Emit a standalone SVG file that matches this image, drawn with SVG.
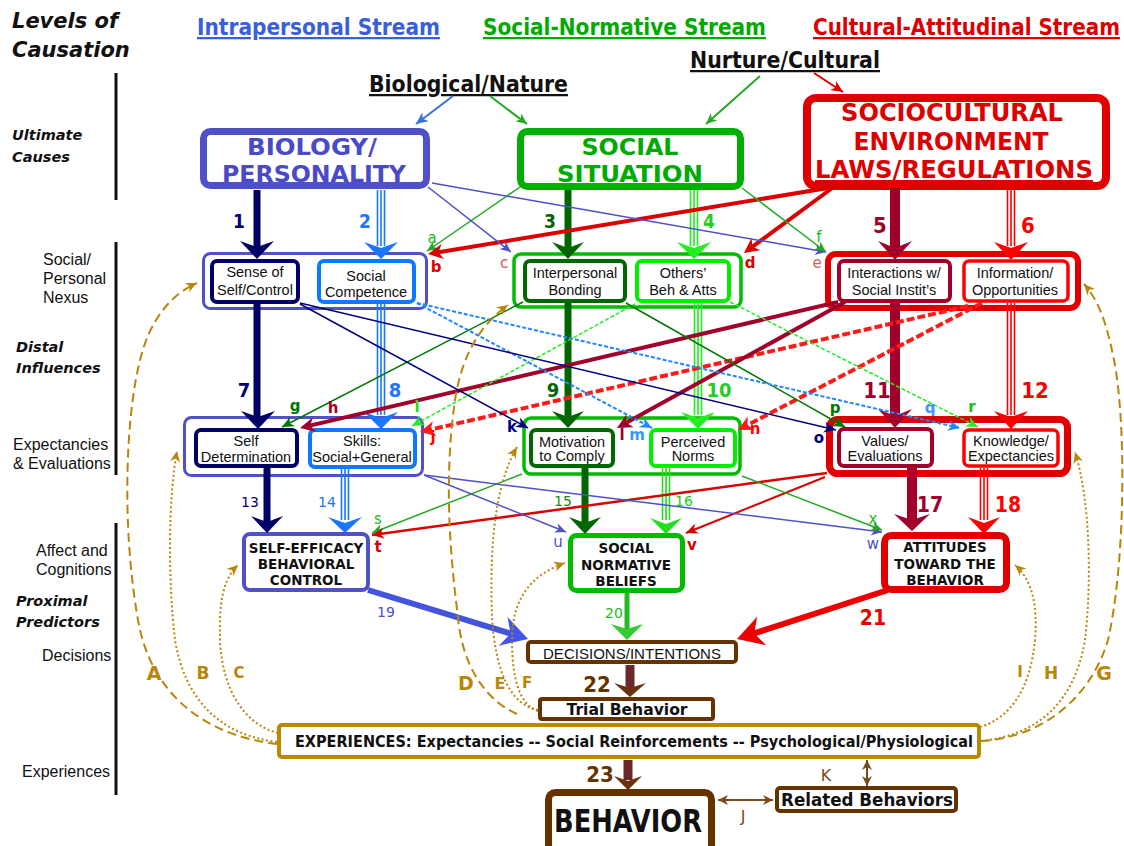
<svg xmlns="http://www.w3.org/2000/svg" width="1124" height="846" viewBox="0 0 1124 846">
<defs>
<style>
.hd{font-family:"DejaVu Sans Condensed","DejaVu Sans",sans-serif;font-stretch:condensed;font-weight:bold}
.bi{font-family:"DejaVu Sans",sans-serif;font-weight:bold;font-style:italic;fill:#111}
.side{font-family:"Liberation Sans",Arial,sans-serif;font-size:16px;fill:#111}
.lab{font-family:"Liberation Sans",Arial,sans-serif;font-size:14.5px;fill:#111;text-anchor:middle}
.b4{font-family:"DejaVu Sans",sans-serif;font-weight:bold;font-size:13.5px;fill:#111;text-anchor:middle}
.num{font-family:"DejaVu Sans Condensed","DejaVu Sans",sans-serif;font-stretch:condensed;font-weight:bold;text-anchor:middle}
.numn{font-family:"DejaVu Sans",sans-serif;font-size:14px;text-anchor:middle}
.let{font-family:"DejaVu Sans",sans-serif;font-size:15px;text-anchor:middle}
.letb{font-family:"DejaVu Sans",sans-serif;font-size:15px;font-weight:bold;text-anchor:middle}
.gl{font-family:"DejaVu Sans",sans-serif;font-weight:bold;fill:#b8860b;text-anchor:middle}
.box{fill:#fff}
.th{fill:none;stroke-width:1.5}
.dash{stroke-dasharray:4 2}
.rdash{stroke-dasharray:8 3}
.gd{fill:none;stroke:#b8860b;stroke-width:2;stroke-dasharray:9 5;marker-end:url(#sGold)}
.gt{fill:none;stroke:#b8860b;stroke-width:2;stroke-dasharray:2 2.5;marker-end:url(#sGold)}
</style>
<marker id="sSlate" viewBox="0 0 10 10" refX="10" refY="5" markerUnits="userSpaceOnUse" markerWidth="11" markerHeight="10" orient="auto" preserveAspectRatio="none"><path d="M0,0 L10,5 L0,10 L3,5 Z" fill="#5050c8"/></marker>
<marker id="sGreen" viewBox="0 0 10 10" refX="10" refY="5" markerUnits="userSpaceOnUse" markerWidth="11" markerHeight="10" orient="auto" preserveAspectRatio="none"><path d="M0,0 L10,5 L0,10 L3,5 Z" fill="#22aa22"/></marker>
<marker id="sRed" viewBox="0 0 10 10" refX="10" refY="5" markerUnits="userSpaceOnUse" markerWidth="12" markerHeight="11" orient="auto" preserveAspectRatio="none"><path d="M0,0 L10,5 L0,10 L3,5 Z" fill="#dd0000"/></marker>
<marker id="sNavy" viewBox="0 0 10 10" refX="10" refY="5" markerUnits="userSpaceOnUse" markerWidth="12" markerHeight="11" orient="auto" preserveAspectRatio="none"><path d="M0,0 L10,5 L0,10 L3,5 Z" fill="#000080"/></marker>
<marker id="sBlue" viewBox="0 0 10 10" refX="10" refY="5" markerUnits="userSpaceOnUse" markerWidth="12" markerHeight="11" orient="auto" preserveAspectRatio="none"><path d="M0,0 L10,5 L0,10 L3,5 Z" fill="#2288ff"/></marker>
<marker id="sDkg" viewBox="0 0 10 10" refX="10" refY="5" markerUnits="userSpaceOnUse" markerWidth="12" markerHeight="11" orient="auto" preserveAspectRatio="none"><path d="M0,0 L10,5 L0,10 L3,5 Z" fill="#007700"/></marker>
<marker id="sBrg" viewBox="0 0 10 10" refX="10" refY="5" markerUnits="userSpaceOnUse" markerWidth="12" markerHeight="11" orient="auto" preserveAspectRatio="none"><path d="M0,0 L10,5 L0,10 L3,5 Z" fill="#22ee22"/></marker>
<marker id="sTopBlue" viewBox="0 0 10 10" refX="10" refY="5" markerUnits="userSpaceOnUse" markerWidth="12" markerHeight="11" orient="auto" preserveAspectRatio="none"><path d="M0,0 L10,5 L0,10 L3,5 Z" fill="#3a6fe0"/></marker>
<marker id="sGold" viewBox="0 0 10 10" refX="10" refY="5" markerUnits="userSpaceOnUse" markerWidth="11" markerHeight="10" orient="auto" preserveAspectRatio="none"><path d="M0,0 L10,5 L0,10 L3,5 Z" fill="#b8860b"/></marker>
<marker id="sBrown" viewBox="0 0 10 10" refX="10" refY="5" markerUnits="userSpaceOnUse" markerWidth="10" markerHeight="10" orient="auto-start-reverse" preserveAspectRatio="none"><path d="M0,0 L10,5 L0,10 L3,5 Z" fill="#7a4a1a"/></marker>
<marker id="mRed" viewBox="0 0 10 10" refX="4" refY="5" markerUnits="userSpaceOnUse" markerWidth="15" markerHeight="15" orient="auto" preserveAspectRatio="none"><path d="M0,0 L10,5 L0,10 L3,5 Z" fill="#dd0000"/></marker>
<marker id="mRed2" viewBox="0 0 10 10" refX="4" refY="5" markerUnits="userSpaceOnUse" markerWidth="15" markerHeight="15" orient="auto" preserveAspectRatio="none"><path d="M0,0 L10,5 L0,10 L3,5 Z" fill="#ff1a1a"/></marker>
<marker id="mDkred" viewBox="0 0 10 10" refX="4" refY="5" markerUnits="userSpaceOnUse" markerWidth="15" markerHeight="15" orient="auto" preserveAspectRatio="none"><path d="M0,0 L10,5 L0,10 L3,5 Z" fill="#a0002a"/></marker>
<marker id="bSlate" viewBox="0 0 10 10" refX="4" refY="5" markerUnits="userSpaceOnUse" markerWidth="26" markerHeight="30" orient="auto" preserveAspectRatio="none"><path d="M0,0 L10,5 L0,10 L3,5 Z" fill="#4455ee"/></marker>
<marker id="bRed" viewBox="0 0 10 10" refX="4" refY="5" markerUnits="userSpaceOnUse" markerWidth="26" markerHeight="30" orient="auto" preserveAspectRatio="none"><path d="M0,0 L10,5 L0,10 L3,5 Z" fill="#ee0000"/></marker>
</defs>
<rect width="1124" height="846" fill="#fff"/>

<g id="headers">
<text class="bi" x="12" y="28" font-size="21">Levels of</text>
<text class="bi" x="12" y="57" font-size="21">Causation</text>
<text class="hd" x="197" y="35" font-size="22.5" textLength="243" lengthAdjust="spacingAndGlyphs" fill="#3a5fdd" text-decoration="underline">Intrapersonal Stream</text>
<text class="hd" x="483" y="35" font-size="22.5" textLength="283" lengthAdjust="spacingAndGlyphs" fill="#00aa00" text-decoration="underline">Social-Normative Stream</text>
<text class="hd" x="813" y="35" font-size="22.5" textLength="307" lengthAdjust="spacingAndGlyphs" fill="#dd0000" text-decoration="underline">Cultural-Attitudinal Stream</text>
<text class="hd" x="690" y="68" font-size="22.5" textLength="190" lengthAdjust="spacingAndGlyphs" fill="#111" text-decoration="underline">Nurture/Cultural</text>
<text class="hd" x="369" y="92" font-size="22.5" textLength="199" lengthAdjust="spacingAndGlyphs" fill="#111" text-decoration="underline">Biological/Nature</text>
</g>

<g id="levels-axis">
<line x1="116" y1="73" x2="116" y2="200" stroke="#111" stroke-width="3"/>
<line x1="116" y1="242" x2="116" y2="475" stroke="#111" stroke-width="3"/>
<line x1="116" y1="523" x2="116" y2="795" stroke="#111" stroke-width="3"/>
<text class="bi" x="12" y="140" font-size="14.5">Ultimate</text>
<text class="bi" x="12" y="162" font-size="14.5">Causes</text>
<text class="side" x="43" y="265">Social/</text>
<text class="side" x="43" y="284">Personal</text>
<text class="side" x="43" y="303">Nexus</text>
<text class="bi" x="16" y="352" font-size="14.5">Distal</text>
<text class="bi" x="16" y="373" font-size="14.5">Influences</text>
<text class="side" x="13" y="450">Expectancies</text>
<text class="side" x="13" y="469">&amp; Evaluations</text>
<text class="side" x="36" y="556">Affect and</text>
<text class="side" x="36" y="575">Cognitions</text>
<text class="bi" x="16" y="606" font-size="14.5">Proximal</text>
<text class="bi" x="16" y="627" font-size="14.5">Predictors</text>
<text class="side" x="42" y="661">Decisions</text>
<text class="side" x="22" y="777">Experiences</text>
</g>

<g id="node-biology">
<rect x="203.5" y="131.5" width="223" height="54" rx="7" class="box" stroke="#5050c8" stroke-width="7"/>
<text class="hd" x="312" y="155" font-size="23" text-anchor="middle" fill="#4a4ac8" textLength="130" lengthAdjust="spacingAndGlyphs">BIOLOGY/</text>
<text class="hd" x="314" y="182" font-size="23" text-anchor="middle" fill="#4a4ac8" textLength="184" lengthAdjust="spacingAndGlyphs">PERSONALITY</text>
</g>
<g id="node-social-situation">
<rect x="520.5" y="131.5" width="220" height="55" rx="7" class="box" stroke="#00b000" stroke-width="7"/>
<text class="hd" x="630" y="155" font-size="23" text-anchor="middle" fill="#00aa00" textLength="97" lengthAdjust="spacingAndGlyphs">SOCIAL</text>
<text class="hd" x="630" y="182" font-size="23" text-anchor="middle" fill="#00aa00" textLength="146" lengthAdjust="spacingAndGlyphs">SITUATION</text>
</g>
<g id="node-sociocultural">
<rect x="807" y="98" width="299" height="88" rx="9" class="box" stroke="#e00000" stroke-width="8"/>
<text class="hd" x="952" y="121" font-size="25.5" text-anchor="middle" fill="#dd0000" textLength="222" lengthAdjust="spacingAndGlyphs">SOCIOCULTURAL</text>
<text class="hd" x="951" y="150" font-size="25.5" text-anchor="middle" fill="#dd0000" textLength="195" lengthAdjust="spacingAndGlyphs">ENVIRONMENT</text>
<text class="hd" x="954" y="178" font-size="25.5" text-anchor="middle" fill="#dd0000" textLength="278" lengthAdjust="spacingAndGlyphs" text-decoration="underline">LAWS/REGULATIONS</text>
</g>

<g id="node-group-intrapersonal-nexus">
<rect x="203.5" y="253.5" width="223" height="55" rx="7" class="box" stroke="#5050c8" stroke-width="3"/>
</g>
<g id="node-sense-of-self">
<rect x="212" y="261" width="86" height="41" rx="5" class="box" stroke="#000066" stroke-width="4"/>
<text class="lab" x="255" y="277">Sense of</text>
<text class="lab" x="255" y="295">Self/Control</text>
</g>
<g id="node-social-competence">
<rect x="319" y="261" width="95" height="41" rx="5" class="box" stroke="#0a7aff" stroke-width="4"/>
<text class="lab" x="366" y="281">Social</text>
<text class="lab" x="366" y="297">Competence</text>
</g>
<g id="node-group-social-nexus">
<rect x="514" y="254" width="227" height="53" rx="7" class="box" stroke="#00bb00" stroke-width="3.5"/>
</g>
<g id="node-interpersonal-bonding">
<rect x="525" y="261" width="100" height="40" rx="5" class="box" stroke="#006600" stroke-width="4"/>
<text class="lab" x="575" y="278">Interpersonal</text>
<text class="lab" x="575" y="295">Bonding</text>
</g>
<g id="node-others-beh">
<rect x="637" y="261" width="92" height="40" rx="5" class="box" stroke="#00ee00" stroke-width="4"/>
<text class="lab" x="683" y="278">Others’</text>
<text class="lab" x="683" y="295">Beh &amp; Atts</text>
</g>
<g id="node-group-cultural-nexus">
<rect x="828" y="254" width="250" height="54" rx="8" class="box" stroke="#e00000" stroke-width="6"/>
</g>
<g id="node-interactions">
<rect x="839" y="261" width="111" height="40" rx="5" class="box" stroke="#a0002a" stroke-width="4"/>
<text class="lab" x="894" y="278">Interactions w/</text>
<text class="lab" x="894" y="295">Social Instit’s</text>
</g>
<g id="node-information">
<rect x="964" y="261" width="104" height="40" rx="5" class="box" stroke="#ff0000" stroke-width="3.5"/>
<text class="lab" x="1015" y="278">Information/</text>
<text class="lab" x="1015" y="295">Opportunities</text>
</g>

<g id="node-group-intrapersonal-expect">
<rect x="184.5" y="417.5" width="238" height="58" rx="7" class="box" stroke="#5050c8" stroke-width="3"/>
</g>
<g id="node-self-determination">
<rect x="196" y="430" width="101" height="36" rx="5" class="box" stroke="#000066" stroke-width="4"/>
<text class="lab" x="246" y="446">Self</text>
<text class="lab" x="246" y="462">Determination</text>
</g>
<g id="node-skills">
<rect x="310" y="430" width="105" height="37" rx="5" class="box" stroke="#0a7aff" stroke-width="4"/>
<text class="lab" x="362" y="446">Skills:</text>
<text class="lab" x="362" y="462">Social+General</text>
</g>
<g id="node-group-social-expect">
<rect x="524" y="418" width="216" height="56" rx="7" class="box" stroke="#00bb00" stroke-width="3.5"/>
</g>
<g id="node-motivation">
<rect x="531" y="430" width="82" height="36" rx="5" class="box" stroke="#006600" stroke-width="4"/>
<text class="lab" x="572" y="447">Motivation</text>
<text class="lab" x="572" y="461">to Comply</text>
</g>
<g id="node-perceived-norms">
<rect x="651" y="430" width="84" height="36" rx="5" class="box" stroke="#00ee00" stroke-width="4"/>
<text class="lab" x="693" y="447">Perceived</text>
<text class="lab" x="693" y="461">Norms</text>
</g>
<g id="node-group-cultural-expect">
<rect x="829.5" y="419.5" width="238" height="54" rx="8" class="box" stroke="#e00000" stroke-width="7"/>
</g>
<g id="node-values">
<rect x="839" y="429" width="93" height="37" rx="5" class="box" stroke="#a0002a" stroke-width="4"/>
<text class="lab" x="885" y="446">Values/</text>
<text class="lab" x="885" y="461">Evaluations</text>
</g>
<g id="node-knowledge">
<rect x="964" y="430" width="94" height="36" rx="5" class="box" stroke="#ff0000" stroke-width="3.5"/>
<text class="lab" x="1011" y="446">Knowledge/</text>
<text class="lab" x="1011" y="461">Expectancies</text>
</g>

<g id="node-self-efficacy">
<rect x="244" y="534" width="124" height="56" rx="6" class="box" stroke="#5050c8" stroke-width="4"/>
<text class="b4" x="306" y="553">SELF-EFFICACY</text>
<text class="b4" x="306" y="569">BEHAVIORAL</text>
<text class="b4" x="306" y="585">CONTROL</text>
</g>
<g id="node-social-normative-beliefs">
<rect x="570.5" y="535.5" width="112" height="55" rx="6" class="box" stroke="#00bb00" stroke-width="5"/>
<text class="b4" x="626" y="553">SOCIAL</text>
<text class="b4" x="626" y="570">NORMATIVE</text>
<text class="b4" x="626" y="586">BELIEFS</text>
</g>
<g id="node-attitudes">
<rect x="884.5" y="535.5" width="122" height="54" rx="7" class="box" stroke="#e00000" stroke-width="7"/>
<text class="b4" x="945" y="552">ATTITUDES</text>
<text class="b4" x="945" y="569">TOWARD THE</text>
<text class="b4" x="945" y="585">BEHAVIOR</text>
</g>

<g id="node-decisions">
<rect x="528" y="642" width="208" height="20" rx="3" class="box" stroke="#663300" stroke-width="4"/>
<text class="lab" x="632" y="659" style="font-size:15px" textLength="178" lengthAdjust="spacingAndGlyphs">DECISIONS/INTENTIONS</text>
</g>
<g id="node-trial-behavior">
<rect x="540" y="699" width="173" height="20" rx="2" class="box" stroke="#663300" stroke-width="4"/>
<text class="b4" x="627" y="715" style="font-size:16px" textLength="121" lengthAdjust="spacingAndGlyphs">Trial Behavior</text>
</g>
<g id="node-experiences">
<rect x="279" y="725" width="700" height="32" rx="3" class="box" stroke="#bb8800" stroke-width="4"/>
<text class="b4" x="634" y="747" style="font-size:15px" textLength="678" lengthAdjust="spacingAndGlyphs">EXPERIENCES: Expectancies -- Social Reinforcements -- Psychological/Physiological</text>
</g>
<g id="node-behavior">
<rect x="548.5" y="792.5" width="163" height="62" rx="7" class="box" stroke="#663300" stroke-width="7"/>
<text class="hd" x="628" y="832" font-size="32" text-anchor="middle" fill="#111" textLength="148" lengthAdjust="spacingAndGlyphs">BEHAVIOR</text>
</g>
<g id="node-related-behaviors">
<rect x="777" y="788" width="179" height="23" rx="3" class="box" stroke="#663300" stroke-width="4"/>
<text class="b4" x="867" y="806" style="font-size:17px" textLength="172" lengthAdjust="spacingAndGlyphs">Related Behaviors</text>
</g>

<g id="connectors">
<line x1="453" y1="96" x2="416" y2="124" stroke="#3a6fe0" stroke-width="2" marker-end="url(#sTopBlue)"/>
<line x1="490" y1="96" x2="527" y2="124" stroke="#22aa22" stroke-width="2" marker-end="url(#sGreen)"/>
<line x1="760" y1="76" x2="706" y2="124" stroke="#22aa22" stroke-width="2" marker-end="url(#sGreen)"/>
<line x1="814" y1="73" x2="843" y2="92" stroke="#dd0000" stroke-width="2" marker-end="url(#sRed)"/>

<line x1="257" y1="190" x2="257" y2="250" stroke="#000066" stroke-width="7"/>
<polygon points="240,241 257,259 274,241 257,247" fill="#000066"/>
<line x1="257" y1="304" x2="257" y2="420" stroke="#000066" stroke-width="7"/>
<polygon points="241,411 258,429 275,411 258,417" fill="#000066"/>
<line x1="267" y1="466" x2="267" y2="524" stroke="#000066" stroke-width="7"/>
<polygon points="251,516 267,533 283,516 267,522" fill="#000066"/>

<g stroke="#1a75ff" stroke-width="1.6">
<line x1="377.5" y1="190" x2="377.5" y2="246"/><line x1="381" y1="190" x2="381" y2="246"/><line x1="384.5" y1="190" x2="384.5" y2="246"/>
<line x1="377.5" y1="304" x2="377.5" y2="415"/><line x1="381" y1="304" x2="381" y2="415"/><line x1="384.5" y1="304" x2="384.5" y2="415"/>
<line x1="341.5" y1="469" x2="341.5" y2="520"/><line x1="345" y1="469" x2="345" y2="520"/><line x1="348.5" y1="469" x2="348.5" y2="520"/>
</g>
<polygon points="364,242 381,259 398,242 381,248" fill="#1a75ff"/>
<polygon points="364,412 381,429 398,412 381,418" fill="#1a75ff"/>
<polygon points="328,517 345,533 362,517 345,523" fill="#1a75ff"/>

<line x1="568" y1="190" x2="568" y2="250" stroke="#006600" stroke-width="7"/>
<polygon points="552,242 568,259 584,242 568,248" fill="#006600"/>
<line x1="568" y1="303" x2="568" y2="420" stroke="#006600" stroke-width="7"/>
<polygon points="552,411 568,428 584,411 568,417" fill="#006600"/>
<line x1="585" y1="466" x2="585" y2="525" stroke="#006600" stroke-width="7"/>
<polygon points="569,517 585,534 601,517 585,523" fill="#006600"/>

<g stroke="#22ee22" stroke-width="1.6">
<line x1="690.5" y1="190" x2="690.5" y2="246"/><line x1="694" y1="190" x2="694" y2="246"/><line x1="697.5" y1="190" x2="697.5" y2="246"/>
<line x1="694.5" y1="303" x2="694.5" y2="415"/><line x1="698" y1="303" x2="698" y2="415"/><line x1="701.5" y1="303" x2="701.5" y2="415"/>
</g>
<g stroke="#22dd22" stroke-width="1.6">
<line x1="662.5" y1="468" x2="662.5" y2="520"/><line x1="666" y1="468" x2="666" y2="520"/><line x1="669.5" y1="468" x2="669.5" y2="520"/>
</g>
<polygon points="677,242 694,259 711,242 694,248" fill="#22ee22"/>
<polygon points="681,412 698,429 715,412 698,418" fill="#22ee22"/>
<polygon points="650,518 666,534 682,518 666,524" fill="#22dd22"/>

<line x1="895" y1="188" x2="895" y2="250" stroke="#a0002a" stroke-width="10"/>
<polygon points="878,241 895,260 912,241 895,248" fill="#a0002a"/>
<line x1="895" y1="303" x2="895" y2="418" stroke="#a0002a" stroke-width="10"/>
<polygon points="878,409 895,428 912,409 895,416" fill="#a0002a"/>
<line x1="912" y1="466" x2="912" y2="522" stroke="#a0002a" stroke-width="10"/>
<polygon points="894,514 912,531 930,514 912,520" fill="#a0002a"/>

<g stroke="#ff0000" stroke-width="1.6">
<line x1="1007.5" y1="190" x2="1007.5" y2="246"/><line x1="1011" y1="190" x2="1011" y2="246"/><line x1="1014.5" y1="190" x2="1014.5" y2="246"/>
<line x1="1007.5" y1="303" x2="1007.5" y2="415"/><line x1="1011" y1="303" x2="1011" y2="415"/><line x1="1014.5" y1="303" x2="1014.5" y2="415"/>
<line x1="980.5" y1="468" x2="980.5" y2="520"/><line x1="984" y1="468" x2="984" y2="520"/><line x1="987.5" y1="468" x2="987.5" y2="520"/>
</g>
<polygon points="994,242 1011,260 1028,242 1011,248" fill="#ff0000"/>
<polygon points="994,411 1011,429 1028,411 1011,417" fill="#ff0000"/>
<polygon points="968,517 984,534 1000,517 984,523" fill="#ff0000"/>

<line x1="368" y1="590" x2="513.1" y2="634.4" stroke="#4455dd" stroke-width="6" marker-end="url(#bSlate)"/>
<line x1="627" y1="593" x2="627" y2="630" stroke="#22bb22" stroke-width="5"/>
<polygon points="611,624 627,640 643,624 627,629" fill="#33cc33"/>
<line x1="888" y1="590" x2="751.8" y2="634.2" stroke="#ee0000" stroke-width="6" marker-end="url(#bRed)"/>
<line x1="630" y1="665" x2="630" y2="688" stroke="#6b2828" stroke-width="9"/>
<polygon points="614,683 630,697 646,683 630,688" fill="#6b3010"/>
<line x1="628" y1="760" x2="628" y2="780" stroke="#6b2828" stroke-width="9"/>
<polygon points="614,776 628,790 642,776 628,781" fill="#6b3010"/>

<line x1="718" y1="800" x2="773" y2="800" stroke="#7a4a1a" stroke-width="2" marker-start="url(#sBrown)" marker-end="url(#sBrown)"/>
<line x1="867" y1="760" x2="867" y2="786" stroke="#7a4a1a" stroke-width="2" marker-start="url(#sBrown)" marker-end="url(#sBrown)"/>

<line x1="520" y1="187" x2="427" y2="251" class="th" stroke="#22aa22" marker-end="url(#sGreen)"/>
<line x1="840" y1="186" x2="436.9" y2="252.5" stroke="#dd0000" stroke-width="4" marker-end="url(#mRed)"/>
<line x1="428" y1="187" x2="511" y2="252" class="th" stroke="#5050c8" marker-end="url(#sSlate)"/>
<line x1="835" y1="186" x2="751.2" y2="247.7" stroke="#dd0000" stroke-width="4" marker-end="url(#mRed)"/>
<line x1="432" y1="183" x2="826" y2="252" class="th" stroke="#5050c8" marker-end="url(#sSlate)"/>
<line x1="742" y1="188" x2="826" y2="252" class="th" stroke="#22aa22" marker-end="url(#sGreen)"/>

<line x1="523" y1="302" x2="282" y2="427" class="th" stroke="#007700" marker-end="url(#sDkg)"/>
<line x1="838" y1="302" x2="308.8" y2="425.9" stroke="#a0002a" stroke-width="4" marker-end="url(#mDkred)"/>
<line x1="635" y1="304" x2="412" y2="426" class="th dash" stroke="#22ee22" marker-end="url(#sBrg)"/>
<line x1="968" y1="306" x2="428.8" y2="430" class="rdash" stroke="#ff1a1a" stroke-width="4" marker-end="url(#mRed2)"/>
<line x1="300" y1="304" x2="528" y2="428" class="th" stroke="#000080" marker-end="url(#sNavy)"/>
<line x1="845" y1="302" x2="624.9" y2="423.6" stroke="#a0002a" stroke-width="4" marker-end="url(#mDkred)"/>
<line x1="417" y1="303" x2="652" y2="428" class="dash" fill="none" stroke="#2288ff" stroke-width="2" marker-end="url(#sBlue)"/>
<line x1="982" y1="303" x2="746" y2="425.8" class="rdash" stroke="#ff1a1a" stroke-width="4" marker-end="url(#mRed2)"/>
<line x1="300" y1="303" x2="836" y2="430" class="th" stroke="#000080" marker-end="url(#sNavy)"/>
<line x1="626" y1="303" x2="845" y2="427" class="th" stroke="#007700" marker-end="url(#sDkg)"/>
<line x1="417" y1="303" x2="960" y2="428" class="dash" fill="none" stroke="#2288ff" stroke-width="2" marker-end="url(#sBlue)"/>
<line x1="730" y1="302" x2="978" y2="427" class="th dash" stroke="#22ee22" marker-end="url(#sBrg)"/>

<line x1="522" y1="474" x2="372" y2="533" class="th" stroke="#22aa22" marker-end="url(#sGreen)"/>
<line x1="827" y1="473" x2="372" y2="535" stroke="#dd0000" stroke-width="2.5" marker-end="url(#sRed)"/>
<line x1="424" y1="475" x2="566" y2="532" class="th" stroke="#5050c8" marker-end="url(#sSlate)"/>
<line x1="825" y1="477" x2="686" y2="533" stroke="#dd0000" stroke-width="2" marker-end="url(#sRed)"/>
<line x1="424" y1="475" x2="882" y2="532" class="th" stroke="#5050c8" marker-end="url(#sSlate)"/>
<line x1="742" y1="476" x2="882" y2="530" class="th" stroke="#22aa22" marker-end="url(#sGreen)"/>

<path class="gd" d="M277,744 C200,735 150,690 138,620 C122,530 125,420 140,360 C150,320 170,295 197,283"/>
<path class="gt" d="M277,742 C220,735 185,700 175,640 C168,580 168,500 177,451"/>
<path class="gt" d="M278,733 C245,725 222,690 220,640 C219,605 222,580 238,565"/>
<path class="gd" d="M517,714 C485,700 462,665 458,617 C448,540 445,470 455,400 C462,355 480,325 508,305"/>
<path class="gt" d="M538,710 C510,705 495,670 492,617 C490,560 492,490 517,447"/>
<path class="gt" d="M538,711 C520,705 512,680 512,640 C512,600 530,575 565,563"/>
<path class="gd" d="M981,741 C1040,738 1090,700 1108,640 C1126,560 1126,420 1114,360 C1106,320 1098,300 1084,284"/>
<path class="gt" d="M981,741 C1040,735 1075,700 1085,640 C1092,580 1090,500 1075,452"/>
<path class="gt" d="M980,727 C1010,718 1030,690 1035,640 C1038,605 1032,580 1015,565"/>
</g>

<g id="connector-labels">
<text class="num" x="239" y="228" font-size="19" fill="#000080">1</text>
<text class="num" x="365" y="228" font-size="19" fill="#1a75ff">2</text>
<text class="num" x="550" y="228" font-size="19" fill="#006600">3</text>
<text class="num" x="709" y="228" font-size="19" fill="#22cc22">4</text>
<text class="num" x="880" y="233" font-size="22" fill="#a0002a">5</text>
<text class="num" x="1028" y="233" font-size="22" fill="#ff0000">6</text>
<text class="num" x="244" y="397" font-size="20" fill="#000080">7</text>
<text class="num" x="395" y="397" font-size="20" fill="#1a75ff">8</text>
<text class="num" x="553" y="397" font-size="20" fill="#006600">9</text>
<text class="num" x="719" y="397" font-size="20" fill="#22cc22">10</text>
<text class="num" x="877" y="398" font-size="22" fill="#a0002a">11</text>
<text class="num" x="1035" y="398" font-size="22" fill="#ff0000">12</text>
<text class="numn" x="250" y="507" fill="#000080">13</text>
<text class="numn" x="327" y="507" fill="#1a75ff">14</text>
<text class="numn" x="563" y="506" fill="#228822">15</text>
<text class="numn" x="684" y="506" fill="#22cc22">16</text>
<text class="num" x="930" y="512" font-size="21" fill="#a0002a">17</text>
<text class="num" x="1008" y="512" font-size="21" fill="#ff0000">18</text>
<text class="numn" x="386" y="617" fill="#5050c8">19</text>
<text class="numn" x="614" y="618" fill="#22bb22">20</text>
<text class="num" x="873" y="625" font-size="21" fill="#ee0000">21</text>
<text class="num" x="597" y="692" font-size="22" fill="#663300">22</text>
<text class="num" x="600" y="782" font-size="22" fill="#663300">23</text>

<text class="let" x="432" y="243" fill="#22bb22">a</text>
<text class="letb" x="436" y="272" fill="#dd0000">b</text>
<text class="let" x="504" y="268" fill="#cc5555">c</text>
<text class="letb" x="750" y="268" fill="#dd0000">d</text>
<text class="let" x="817" y="268" fill="#cc6666">e</text>
<text class="let" x="819" y="242" fill="#22bb22">f</text>
<text class="letb" x="295" y="411" fill="#007700">g</text>
<text class="letb" x="333" y="413" fill="#a0002a">h</text>
<text class="letb" x="417" y="412" fill="#22dd22">i</text>
<text class="letb" x="433" y="442" fill="#ff0000">j</text>
<text class="letb" x="512" y="432" fill="#000080">k</text>
<text class="letb" x="622" y="440" fill="#a0002a">l</text>
<text class="letb" x="637" y="440" fill="#3399ff">m</text>
<text class="letb" x="755" y="434" fill="#ff0000">n</text>
<text class="letb" x="819" y="443" fill="#000080">o</text>
<text class="letb" x="835" y="413" fill="#007700">p</text>
<text class="letb" x="930" y="413" fill="#3399ff">q</text>
<text class="letb" x="972" y="412" fill="#22bb22">r</text>
<text class="let" x="378" y="524" fill="#22bb22">s</text>
<text class="letb" x="378" y="552" fill="#dd0000">t</text>
<text class="let" x="558" y="547" fill="#5050c8">u</text>
<text class="letb" x="692" y="550" fill="#dd0000">v</text>
<text class="let" x="873" y="549" fill="#5050c8">w</text>
<text class="let" x="873" y="524" fill="#22bb22">x</text>

<text class="gl" x="154" y="680" font-size="19">A</text>
<text class="gl" x="203" y="679" font-size="17">B</text>
<text class="gl" x="239" y="678" font-size="15">C</text>
<text class="gl" x="466" y="690" font-size="19">D</text>
<text class="gl" x="500" y="689" font-size="16">E</text>
<text class="gl" x="527" y="688" font-size="15">F</text>
<text class="gl" x="1104" y="680" font-size="19">G</text>
<text class="gl" x="1051" y="679" font-size="17">H</text>
<text class="gl" x="1020" y="677" font-size="15">I</text>
<text class="let" x="743" y="822" style="font-size:16px" fill="#7a4a1a">J</text>
<text class="let" x="826" y="781" style="font-size:16px" fill="#7a4a1a">K</text>
</g>
</svg>
